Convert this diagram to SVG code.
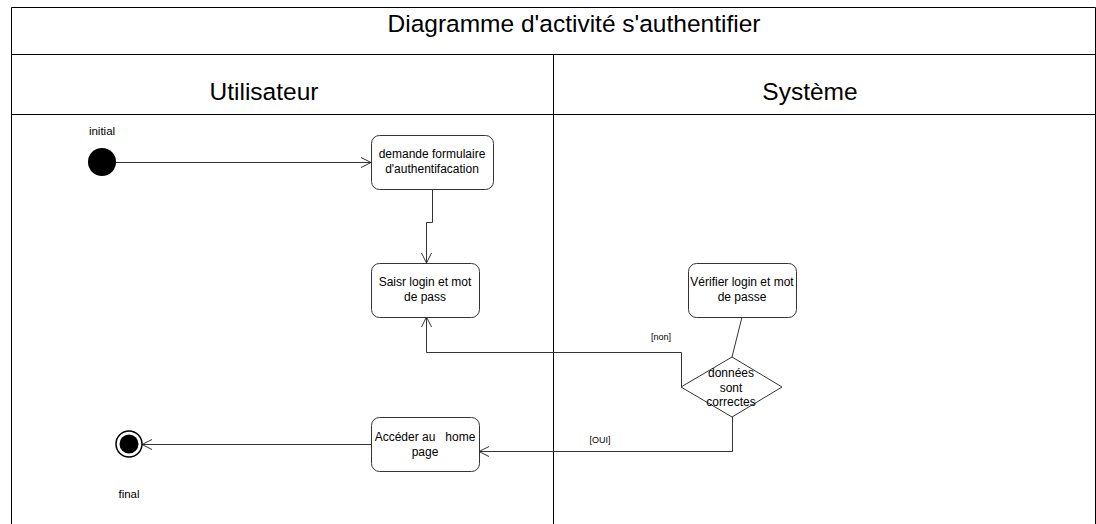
<svg xmlns="http://www.w3.org/2000/svg" width="1096" height="524" viewBox="0 0 1096 524">
  <style>
    .frame { fill: none; stroke: #000; stroke-width: 1; }
    .act { fill: #fff; stroke: #333; stroke-width: 1; }
    .edge { fill: none; stroke: #333; stroke-width: 1; }
    .t { font-family: "Liberation Sans", Arial, sans-serif; fill: #000; }
    .head { font-size: 24.5px; text-anchor: middle; }
    .lbl { font-size: 12px; text-anchor: middle; }
    .small { font-size: 11.5px; text-anchor: middle; }
    .guard { font-size: 9px; text-anchor: middle; }
  </style>
  <defs>
    <marker id="open" viewBox="0 0 12 12" refX="11" refY="6" markerWidth="12" markerHeight="12" markerUnits="userSpaceOnUse" orient="auto">
      <path d="M1,1 L11,6 L1,11" fill="none" stroke="#333" stroke-width="1"/>
    </marker>
  </defs>
  <rect width="1096" height="524" fill="#fff"/>

  <!-- pool with title band and two swimlanes -->
  <g id="pool">
    <path class="frame" d="M11.5,524 V7.5 H1095.5 V524"/>
    <line class="frame" x1="11" y1="54.5" x2="1096" y2="54.5"/>
    <line class="frame" x1="11" y1="114.5" x2="1096" y2="114.5"/>
    <line class="frame" x1="553.5" y1="54" x2="553.5" y2="524"/>
    <text class="t head" x="574" y="32">Diagramme d'activité s'authentifier</text>
    <text class="t head" x="264" y="100">Utilisateur</text>
    <text class="t head" x="810" y="100">Système</text>
  </g>

  <!-- connectors -->
  <g id="connectors">
    <line class="edge" x1="116" y1="162.5" x2="371" y2="162.5" marker-end="url(#open)"/>
    <path class="edge" d="M432.5,189 V222.5 H426.5 V263" marker-end="url(#open)"/>
    <line class="edge" x1="742" y1="317" x2="732" y2="357"/>
    <path class="edge" d="M681.5,387 V352.5 H426.5 V317" marker-end="url(#open)"/>
    <text class="t guard" x="661" y="340">[non]</text>
    <path class="edge" d="M732.5,417 V451.5 H479" marker-end="url(#open)"/>
    <text class="t guard" x="600" y="443">[OUI]</text>
    <line class="edge" x1="372" y1="444.5" x2="142" y2="444.5" marker-end="url(#open)"/>
  </g>

  <g id="initial">
    <circle cx="102" cy="162" r="14" fill="#000"/>
    <text class="t small" x="102" y="135">initial</text>
  </g>

  <g id="demande">
    <rect class="act" x="371.5" y="135.5" width="122" height="54" rx="8"/>
    <text class="t lbl" x="432" y="158">demande formulaire</text>
    <text class="t lbl" x="432" y="173">d'authentifacation</text>
  </g>

  <g id="saisir">
    <rect class="act" x="371.5" y="263.5" width="108" height="54" rx="8"/>
    <text class="t lbl" x="425" y="286">Saisr login et mot</text>
    <text class="t lbl" x="425" y="301">de pass</text>
  </g>

  <g id="verifier">
    <rect class="act" x="688.5" y="263.5" width="108" height="54" rx="8"/>
    <text class="t lbl" x="742" y="286">Vérifier login et mot</text>
    <text class="t lbl" x="742" y="301">de passe</text>
  </g>

  <g id="decision">
    <polygon class="act" points="732,357 782,387 732,417 681,387"/>
    <text class="t lbl" x="731" y="377">données</text>
    <text class="t lbl" x="731" y="392">sont</text>
    <text class="t lbl" x="731" y="406">correctes</text>
  </g>

  <g id="acceder">
    <rect class="act" x="371.5" y="417.5" width="108" height="54" rx="8"/>
    <text class="t lbl" x="425" y="441" xml:space="preserve">Accéder au   home</text>
    <text class="t lbl" x="425" y="456">page</text>
  </g>

  <g id="final">
    <circle cx="129" cy="444" r="13" fill="#fff" stroke="#000" stroke-width="1.5"/>
    <circle cx="129" cy="444" r="9.5" fill="#000"/>
    <text class="t small" x="129" y="498">final</text>
  </g>
</svg>
